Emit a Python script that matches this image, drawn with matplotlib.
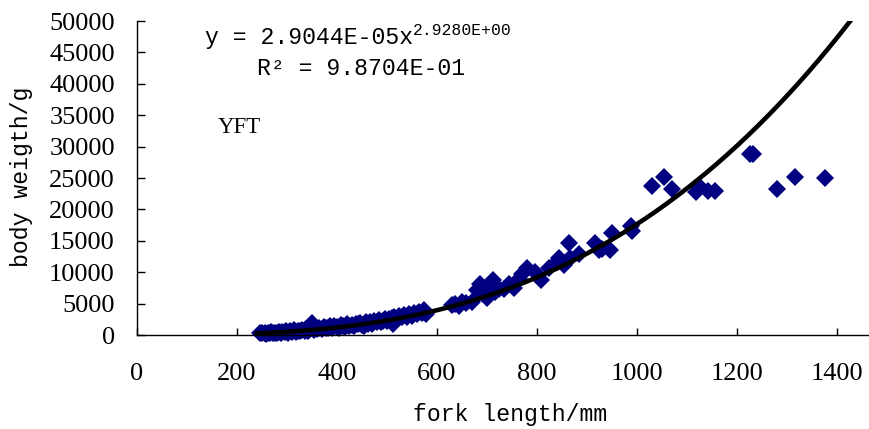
import matplotlib
matplotlib.use("Agg")
import matplotlib.pyplot as plt
import numpy as np

# fork length (mm) and body weight (g)
fork_length = [
    245, 250, 255, 258, 262, 265, 268, 272, 275, 280, 283, 287, 290, 295, 298,
    302, 305, 310, 313, 318, 322, 326, 330, 335, 338, 342, 345, 350, 353, 357,
    360, 365, 370, 374, 378, 382, 386, 390, 395, 400, 404, 408, 412, 416, 420,
    425, 430, 434, 438, 442, 446, 450, 455, 458, 462, 466, 470, 475, 480, 484,
    488, 492, 496, 500, 505, 510, 512, 515, 520, 525, 530, 535, 540, 545, 550,
    555, 560, 565, 570, 575, 578,
    630, 636, 645, 650, 658, 670, 680, 687, 693, 700, 707, 713, 717, 725, 734,
    744, 754, 764, 771, 780, 797, 809, 824, 841, 844, 854, 857, 864, 867, 884,
    917, 925, 931, 947, 950, 988, 990, 1030, 1054, 1071, 1118, 1126, 1143, 1156,
    1226, 1232, 1280, 1316, 1376,
]
body_weight = [
    300, 250, 400, 200, 350, 300, 450, 250, 400, 350, 500, 300, 550, 450, 650,
    400, 600, 550, 750, 500, 700, 600, 850, 650, 900, 700, 1000, 1900, 800, 1100,
    900, 1200, 1000, 1300, 1100, 1200, 1400, 1100, 1500, 1300, 1200, 1600, 1400, 1300, 1700,
    1500, 1600, 1400, 1800, 1700, 1900, 1600, 1500, 2100, 1800, 2000, 1700, 2200, 2000, 2400,
    2100, 2300, 2600, 2200, 2500, 2700, 1800, 2800, 2600, 3000, 2800, 3200, 2900, 3300, 3100,
    3500, 3300, 3700, 3500, 4000, 3300,
    4800, 5000, 4700, 5300, 5100, 5300, 7200, 8200, 6600, 5900, 7900, 8700, 6900, 7300, 7400,
    8200, 7500, 8900, 9700, 10600, 10000, 8800, 10600, 11700, 12300, 11100, 11400, 14700, 12200, 12900,
    14700, 13500, 13700, 13500, 16300, 17400, 16500, 23800, 25100, 23200, 22700, 23500, 22900, 22900,
    28900, 28800, 23200, 25100, 25000,
]

# power trendline from the chart: y = a * x^b
coef_a = 2.9044e-05
coef_b = 2.9280

mono = "Liberation Mono"
serif = "Liberation Serif"

fig = plt.figure(figsize=(8.69, 4.29), dpi=100)
ax = fig.add_axes([0.1577, 0.219, 0.841, 0.732])

ax.plot(fork_length, body_weight, linestyle="none", marker="D", markersize=9,
        color="#000080", markeredgewidth=0, zorder=2, clip_on=False)

xs = np.linspace(240, 1462, 300)
ax.plot(xs, coef_a * xs ** coef_b, color="black", linewidth=3.3, zorder=3)

ax.set_xlim(0, 1462)
ax.set_ylim(0, 50000)
ax.set_xticks(np.arange(0, 1401, 200))
ax.set_yticks(np.arange(0, 50001, 5000))

for s in ["top", "right"]:
    ax.spines[s].set_visible(False)
for s in ["left", "bottom"]:
    ax.spines[s].set_linewidth(1.0)

ax.tick_params(axis="x", direction="in", length=5, width=1, pad=20)
ax.tick_params(axis="y", direction="in", length=6, width=1, pad=16)
for lab in ax.get_xticklabels() + ax.get_yticklabels():
    lab.set_fontfamily(serif)
    lab.set_fontsize(19)

fig.text(510 / 869, 1 - 415 / 429, "fork length/mm", family=mono, fontsize=16.7,
         ha="center", va="center")
fig.text(22 / 869, 1 - 177 / 429, "body weigth/g", family=mono, fontsize=16.7,
         ha="center", va="center", rotation=90)

t1 = ax.text(0.093, 0.949, "y = 2.9044E-05x", transform=ax.transAxes,
             family=mono, fontsize=16.7, ha="left", va="center")
ax.annotate("2.9280E+00", xy=(1, 1), xycoords=t1, xytext=(0, 2),
            textcoords="offset points", family=mono, fontsize=11.8,
            ha="left", va="top")
ax.text(0.164, 0.850, "R\u00b2 = 9.8704E-01", transform=ax.transAxes,
        family=mono, fontsize=16.7, ha="left", va="center")
ax.text(0.111, 0.662, "YFT", transform=ax.transAxes, family=serif,
        fontsize=16.5, ha="left", va="center")

fig.savefig("out.png", dpi=100)
